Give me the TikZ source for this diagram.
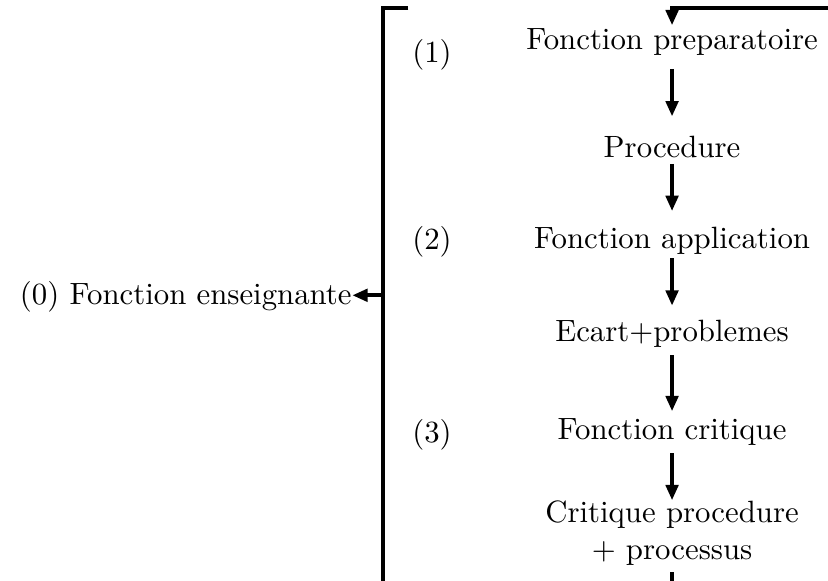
\documentclass[tikz,border=0pt]{standalone}
\usepackage{amsmath,amssymb}
\usepackage{tikz}
\usepackage{xcolor}
\usetikzlibrary{arrows.meta}

\tikzset{
  flow/.style={line width=1.3pt},
  flowarrow/.style={line width=1.3pt,-{Triangle[length=5pt,width=4pt]}},
  lab/.style={inner sep=0pt,anchor=base}
}

\begin{document}
\begin{tikzpicture}[x=1cm,y=1cm]
\useasboundingbox (0,0) rectangle (9.45,-6.63);
% bracket on the left
\coordinate (btop) at (4.37,-0.09);
\coordinate (bmid) at (4.37,-3.37);
\coordinate (bbot) at (4.37,-6.63);
\draw[flow] (4.66,-0.09) -- (btop) -- (bbot);
\node[lab,anchor=base east] (ens) at (4.02,-3.48) {(0) Fonction enseignante};
\draw[flowarrow] (bmid) -- (bmid -| ens.east);
% numbers
\node[lab] (n1) at (4.93,-0.71) {(1)};
\node[lab] (n2) at (4.93,-2.85) {(2)};
\node[lab] (n3) at (4.93,-5.05) {(3)};
% chain of functions
\node[lab] (prep) at (7.67,-0.57) {Fonction preparatoire};
\node[lab] (proc) at (7.67,-1.80) {Procedure};
\node[lab] (appl) at (7.67,-2.84) {Fonction application};
\node[lab] (ecart) at (7.67,-3.90) {Ecart+problemes};
\node[lab] (crit) at (7.67,-5.02) {Fonction critique};
\node[inner sep=0pt,anchor=north,align=center] (critproc) at (7.67,-5.71) {Critique procedure\\ + processus};
\coordinate (ttop) at (7.67,-0.09);
\coordinate (fbot) at (7.67,-6.63);
\draw[flowarrow,shorten >=1pt] (9.45,-0.09) -- (ttop) -- (prep.north);
\draw[flowarrow,shorten <=0.14cm,shorten >=0.22cm] (prep.south) -- (proc.north);
\draw[flowarrow,shorten <=0.06cm,shorten >=0.18cm] (proc.south) -- (appl.north);
\draw[flowarrow,shorten <=0.03cm,shorten >=0.16cm] (appl.south) -- (ecart.north);
\draw[flowarrow,shorten <=0.08cm,shorten >=0.08cm] (ecart.south) -- (crit.north);
\draw[flowarrow,shorten <=0.08cm] (crit.south) -- (critproc.north);
\draw[flow,shorten <=0.07cm] (critproc.south) -- (fbot);
\end{tikzpicture}
\end{document}
